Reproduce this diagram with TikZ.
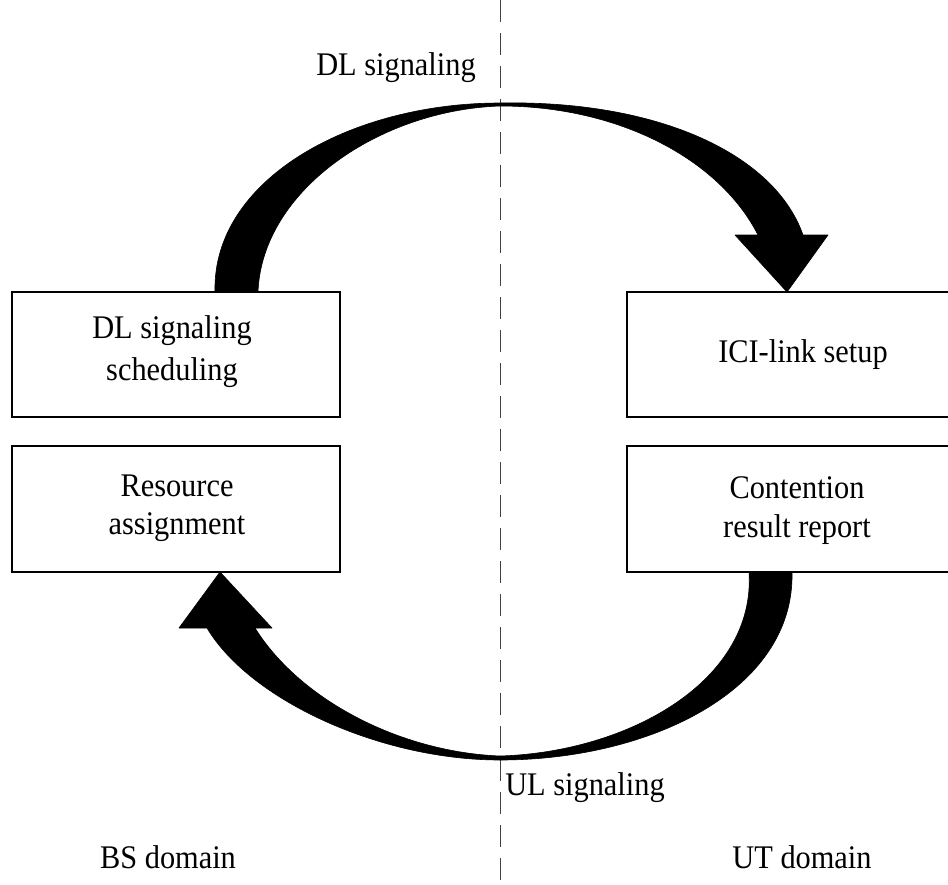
\documentclass[tikz,border=0pt]{standalone}
\usepackage{fontspec}
\setmainfont[FakeStretch=0.92]{Liberation Serif}
\begin{document}
\begin{tikzpicture}[x=1pt,y=-1pt,
  box/.style={draw=black, line width=1.2pt, minimum width=#1, minimum height=125pt, inner sep=0pt},
  lbl/.style={font=\fontsize{33}{40}\selectfont, inner sep=0pt, anchor=base},
  btext/.style={font=\fontsize{33}{#1}\selectfont, align=center, inner sep=0pt},
  divider/.style={draw=black!75, line width=1pt, dash pattern=on 22pt off 11pt},
  bigarrow/.style={fill=black, draw=black, line width=0.6pt, line join=round}]
\useasboundingbox (0,0) rectangle (948,884);
\clip (0,0) rectangle (948,884);
\fill[white] (0,0) rectangle (948,884);

% dashed divider
\coordinate (dtop) at (500,0);
\coordinate (dbot) at (500,884);
\draw[divider] (dtop) -- (dbot);

% boxes
\node[box=328pt] (dls) at (176,354.5) {};
\node[box=328pt, minimum height=126pt] (ra) at (176,509) {};
\node[box=333pt] (ici) at (793.5,354.5) {};
\node[box=333pt, minimum height=126pt] (crr) at (793.5,509) {};

% box texts
\node[btext=42pt] (tdls) at (172,351.5) {DL signaling\\scheduling};
\node[btext=38pt] (tra) at (177,508) {Resource\\assignment};
\node[btext=40pt] (tici) at (803,354.5) {ICI-link setup};
\node[btext=39pt] (tcrr) at (797,510.5) {Contention\\result report};

% DL signaling arrow (BS -> UT)
\path[bigarrow] (215,292) .. controls (212,180) and (350,103) .. (500,103)
  .. controls (660,100) and (775,155) .. (803,235)
  -- (828,235) -- (787,292) -- (735,235) -- (758,235)
  .. controls (720,160) and (620,106) .. (500,106)
  .. controls (380,110) and (262,190) .. (258,292) -- cycle;

% UL signaling arrow (UT -> BS)
\path[bigarrow] (792,572) .. controls (795,690) and (650,760) .. (500,760)
  .. controls (380,760) and (250,700) .. (207,628)
  -- (179,628) -- (220,572) -- (272,628) -- (255,628)
  .. controls (300,700) and (400,752) .. (500,756)
  .. controls (630,752) and (756,680) .. (749,572) -- cycle;

% labels
\node[lbl] (dlsig) at (396,75) {DL signaling};
\node[lbl] (ulsig) at (585,795) {UL signaling};
\node[lbl] (bsdom) at (168,868) {BS domain};
\node[lbl] (utdom) at (802,868) {UT domain};
\end{tikzpicture}
\end{document}
